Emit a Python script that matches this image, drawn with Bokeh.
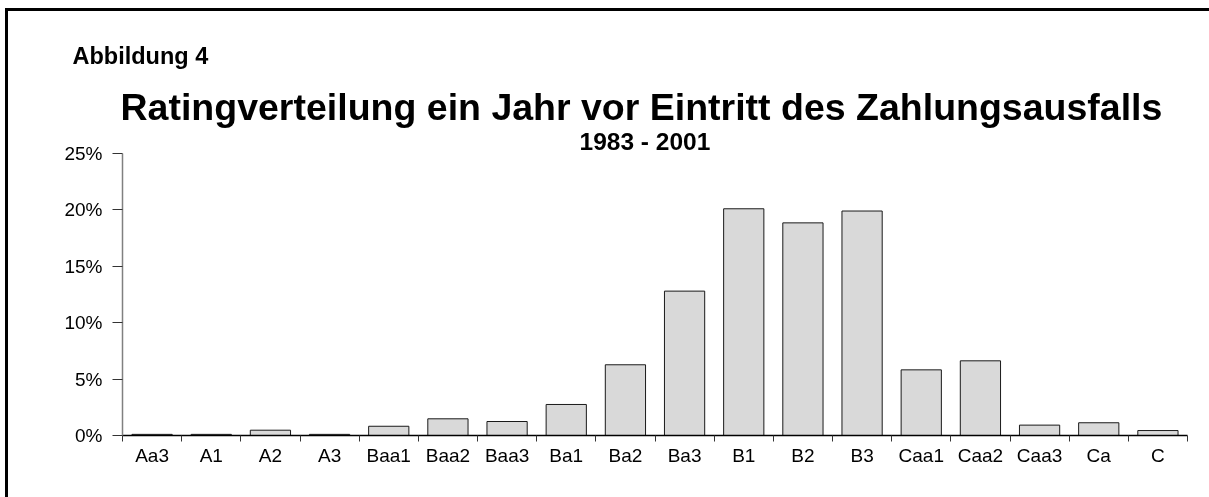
from bokeh.plotting import figure
from bokeh.models import Range1d, FixedTicker, Title, LinearAxis, PrintfTickFormatter, ColumnDataSource
from bokeh.embed import file_html
from bokeh.resources import INLINE

ratings = ["Aa3", "A1", "A2", "A3", "Baa1", "Baa2", "Baa3", "Ba1", "Ba2", "Ba3",
           "B1", "B2", "B3", "Caa1", "Caa2", "Caa3", "Ca", "C"]
shares = [0.1, 0.1, 0.47, 0.1, 0.82, 1.48, 1.24, 2.75, 6.27, 12.8,
          20.1, 18.85, 19.9, 5.82, 6.62, 0.92, 1.13, 0.44]
y_ticks = [0, 5, 10, 15, 20, 25]
fig_label = "Abbildung 4"
main_title = "Ratingverteilung ein Jahr vor Eintritt des Zahlungsausfalls"
sub_title = "1983 - 2001"

FONT = "Liberation Sans"
n = len(ratings)
positions = list(range(1, n + 1))

p = figure(width=1215, height=500, output_backend="svg", toolbar_location=None,
           x_range=Range1d(0.5, n + 0.5), y_range=Range1d(0, 25),
           min_border_left=114, min_border_right=39, min_border_top=142,
           min_border_bottom=79, x_axis_type=None, y_axis_type=None)
p.styles = {"position": "fixed", "left": "5px", "top": "8px",
            "border-left": "3px solid black", "border-top": "3px solid black",
            "box-sizing": "content-box", "margin": "0px"}
p.outline_line_color = None
p.xgrid.visible = False
p.ygrid.visible = False
p.background_fill_color = "white"
p.border_fill_color = "white"

src = ColumnDataSource(dict(x=positions, top=shares, name=ratings))
p.vbar(x="x", top="top", bottom=0, width=0.68, source=src,
       fill_color="#d9d9d9", line_color="#1a1a1a", line_width=1)

xaxis = LinearAxis(ticker=FixedTicker(ticks=positions, minor_ticks=[k + 0.5 for k in range(n + 1)]))
xaxis.major_label_overrides = {pos: lab for pos, lab in zip(positions, ratings)}
xaxis.axis_line_color = "black"
xaxis.axis_line_width = 1.5
xaxis.major_tick_out = 0
xaxis.major_tick_in = 0
xaxis.minor_tick_out = 6
xaxis.minor_tick_in = 0
xaxis.minor_tick_line_color = "#333333"
xaxis.major_label_text_font = FONT
xaxis.major_label_text_font_size = "19px"
xaxis.major_label_text_color = "black"
xaxis.major_label_standoff = 3
p.add_layout(xaxis, "below")

yaxis = LinearAxis(ticker=FixedTicker(ticks=y_ticks, minor_ticks=[]),
                   formatter=PrintfTickFormatter(format="%d%%"))
yaxis.axis_line_color = "#808080"
yaxis.axis_line_width = 1.5
yaxis.major_tick_out = 10
yaxis.major_tick_in = 0
yaxis.major_tick_line_color = "#333333"
yaxis.minor_tick_line_color = None
yaxis.major_label_text_font = FONT
yaxis.major_label_text_font_size = "19px"
yaxis.major_label_text_color = "black"
yaxis.major_label_standoff = 10
p.add_layout(yaxis, "left")

p.title.visible = False
p.add_layout(Title(text=sub_title, align="left", offset=457, standoff=-3,
                   text_font=FONT, text_font_style="bold", text_font_size="24.5px",
                   text_color="black"), "above")
p.add_layout(Title(text=main_title, align="left", offset=-2, standoff=-1,
                   text_font=FONT, text_font_style="bold", text_font_size="37.5px",
                   text_color="black"), "above")
p.add_layout(Title(text=fig_label, align="left", offset=-50, standoff=32,
                   text_font=FONT, text_font_style="bold", text_font_size="23.5px",
                   text_color="black"), "above")

open("out.html", "w").write(file_html(p, INLINE))
